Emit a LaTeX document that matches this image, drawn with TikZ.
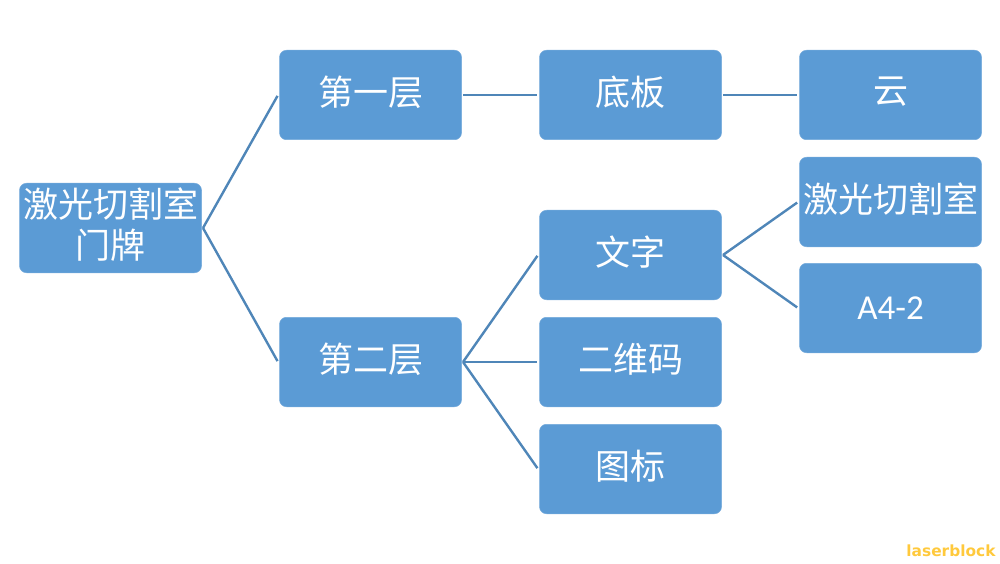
\documentclass[tikz,border=0pt]{standalone}
\usepackage{fontspec}
\newfontfamily\cjk{Noto Sans CJK SC}
\newfontfamily\latin{Carlito}
\newfontfamily\marca{DejaVu Sans}
\definecolor{azul}{HTML}{5B9BD5}
\definecolor{azulosc}{HTML}{4F86B8}
\definecolor{oro}{HTML}{FFC93C}
\tikzset{
    caja/.style={fill=azul,draw=azul!85!white,line width=0.5pt,rounded corners=7pt,
        minimum width=182pt,minimum height=89.5pt,inner sep=0pt,outer sep=1.5pt,
        text=white,align=center,font=\cjk\fontsize{35}{41}\selectfont},
    cajachina/.style={caja,execute at end node={\rule[-9pt]{0pt}{9pt}}},
    linea/.style={draw=azulosc,line width=2.4pt,shorten >=1pt}
}
\begin{document}
\begin{tikzpicture}[x=1pt,y=1pt]
            \useasboundingbox (0,0) rectangle (1000,563);
            \node[cajachina] (raiz) at (110.5,335) {激光切割室\\门牌};
            \node[cajachina] (capa1) at (370.5,468) {第一层};
            \node[cajachina] (capa2) at (370.5,201) {第二层};
            \node[cajachina] (base) at (630.5,468) {底板};
            \node[cajachina] (texto) at (630.5,308) {文字};
            \node[cajachina] (codigo) at (630.5,201) {二维码};
            \node[cajachina] (icono) at (630.5,94) {图标};
            \node[cajachina] (nube) at (890.5,468) {云};
            \node[cajachina] (sala) at (890.5,361) {激光切割室};
            \node[caja,font=\latin\fontsize{35}{41}\selectfont] (hoja) at (890.5,255) {A4-2};
            \node[text=oro,font=\marca\bfseries\fontsize{15.4}{18}\selectfont,inner sep=0pt] (firma) at (951,12) {laserblock};
            \draw[linea] (raiz.east) -- (capa1.west);
            \draw[linea] (raiz.east) -- (capa2.west);
            \draw[linea] (capa1.east) -- (base.west);
            \draw[linea] (base.east) -- (nube.west);
            \draw[linea] (capa2.east) -- (texto.west);
            \draw[linea] (capa2.east) -- (codigo.west);
            \draw[linea] (capa2.east) -- (icono.west);
            \draw[linea] (texto.east) -- (sala.west);
            \draw[linea] (texto.east) -- (hoja.west);
        \end{tikzpicture}
\end{document}
